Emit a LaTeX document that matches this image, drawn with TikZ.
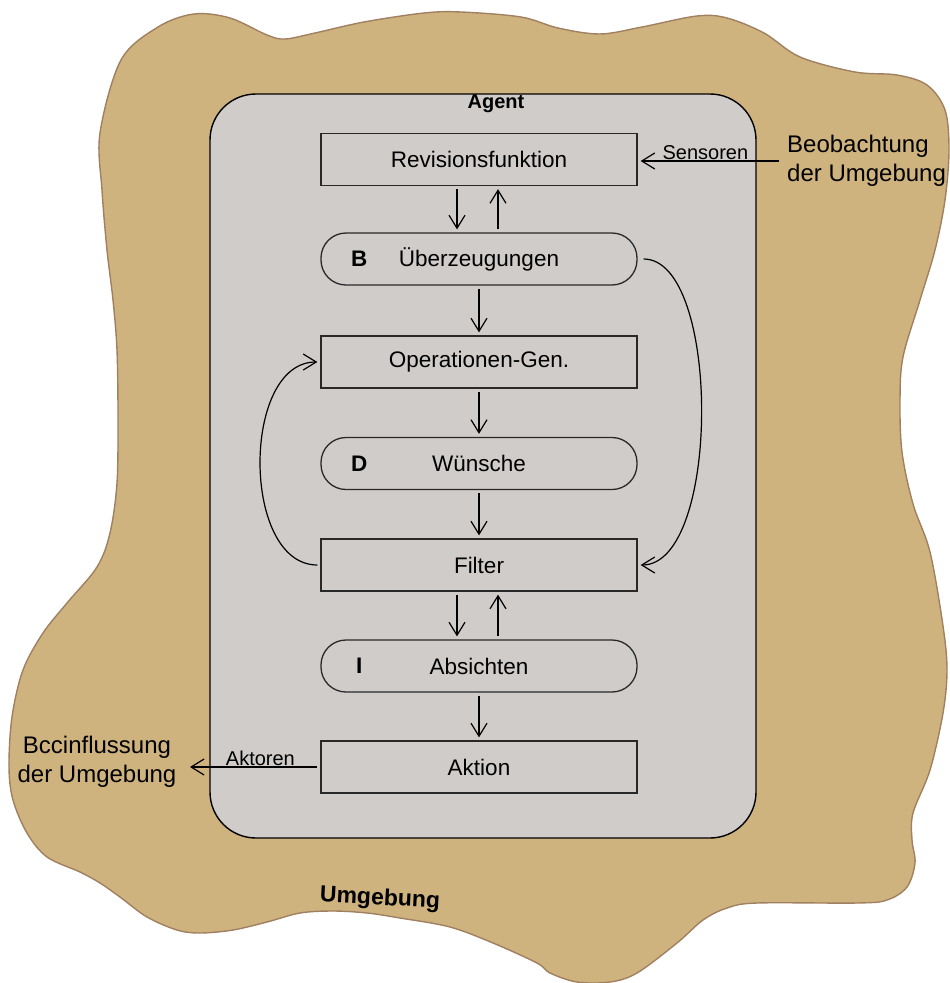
\documentclass[tikz,border=0pt]{standalone}
\usepackage{fontspec}
\setmainfont{Liberation Sans}
\usepackage{tikz}
\usetikzlibrary{arrows.meta}

\definecolor{sand}{RGB}{207,179,127}
\definecolor{sandline}{RGB}{160,128,96}
\definecolor{agentgray}{RGB}{207,204,201}
\definecolor{boxline}{RGB}{40,40,40}

\begin{document}
\begin{tikzpicture}[x=1pt,y=-1pt,
    box/.style={draw=boxline, line width=1.3pt, rectangle, minimum width=316pt, minimum height=52pt, font=\fontsize{22.5}{26}\selectfont},
    store/.style={box, rounded corners=25pt},
    letter/.style={inner sep=0pt, font=\fontsize{22.5}{26}\selectfont\bfseries},
    arr/.style={-{Straight Barb[length=13pt,width=16pt]}, line width=1.2pt, shorten <=3pt, shorten >=3pt},
    side/.style={inner sep=1pt, font=\fontsize{20}{24}\selectfont},
    outer/.style={inner sep=2pt, font=\fontsize{24}{28.5}\selectfont}]

            \fill[white] (0,0) rectangle (950,983);
            \useasboundingbox (0,0) rectangle (950,983);

            % Umgebung
            \draw[fill=sand, draw=sandline, line width=1.4pt] plot[smooth cycle, tension=0.55] coordinates {
                (100,133) (121,60) (158,27) (194,14) (230,18) (267,35) (285,39) (315,33) (364,22)
                (424,13) (461,12) (521,17) (558,28) (600,34) (642,27) (697,16) (727,18) (764,33)
                (800,57) (855,72) (897,75) (927,85) (945,110) (949,150) (945,200) (935,250)
                (920,300) (903,357) (900,400) (902,452) (913,504) (930,552) (943,626) (947,670)
                (943,713) (930,770) (913,813) (912,840) (915,863) (907,887) (887,900) (857,903)
                (757,903) (727,908) (703,920) (677,943) (637,973) (610,982) (577,982) (550,973)
                (537,963) (493,943) (450,927) (400,918) (367,913) (333,911) (300,913) (267,922)
                (233,930) (200,933) (177,930) (147,917) (120,897) (100,883) (80,872) (47,857)
                (27,833) (13,800) (9,767) (12,717) (23,670) (43,633) (67,603) (97,567) (110,533)
                (117,483) (118,417) (117,350) (113,300) (107,250) (102,190)};
            \node[font=\fontsize{23}{27}\selectfont\bfseries, rotate=-3] (env) at (380,899) {Umgebung};

            % Agent
            \node[draw=black, line width=1.4pt, fill=agentgray, rounded corners=46pt,
                  minimum width=546pt, minimum height=744pt] (agent) at (483,466) {};
            \node[inner sep=1pt, font=\fontsize{20}{24}\selectfont\bfseries] (agentlbl) at (496,104) {Agent};

            \node[box] (rev) at (479,159.5) {Revisionsfunktion};
            \node[store] (ueb) at (479,259) {Überzeugungen};
            \node[box] (opgen) at (479,362) {Operationen-Gen.};
            \node[store] (wun) at (479,463.5) {Wünsche};
            \node[box] (filter) at (479,565) {Filter};
            \node[store] (abs) at (479,666) {Absichten};
            \node[box] (aktion) at (479,767) {Aktion};

            \node[letter] (lb) at ([xshift=39pt]ueb.west) {B};
            \node[letter] (ld) at ([xshift=39pt]wun.west) {D};
            \node[letter] (li) at ([xshift=39pt]abs.west) {I};

            \draw[arr] ([xshift=-22pt]rev.south) -- ([xshift=-22pt]ueb.north);
            \draw[arr] ([xshift=19pt]ueb.north) -- ([xshift=19pt]rev.south);
            \draw[arr] (ueb.south) -- (opgen.north);
            \draw[arr] (opgen.south) -- (wun.north);
            \draw[arr] (wun.south) -- (filter.north);
            \draw[arr] ([xshift=-22pt]filter.south) -- ([xshift=-22pt]abs.north);
            \draw[arr] ([xshift=19pt]abs.north) -- ([xshift=19pt]filter.south);
            \draw[arr] (abs.south) -- (aktion.north);

            \draw[arr] (filter.west) to[out=180,in=180,looseness=1] (opgen.west);
            \draw[arr, shorten <=6pt] (ueb.east) to[out=0,in=0,looseness=0.7] (filter.east);

            % Sensoren und Aktoren
            \node[outer, align=left, anchor=west] (obs) at (785,161) {Beobachtung\\der Umgebung};
            \node[outer, align=center] (infl) at (97,762) {Bccinflussung\\der Umgebung};
            \coordinate (aktout) at (190,767);

            \draw[arr, shorten <=6pt] (obs.west) -- (obs.west -| rev.east)
                node[side, above, pos=0.54] (sens) {Sensoren};
            \draw[arr, shorten >=0pt] (aktion.west) -- (aktout)
                node[side, above, pos=0.46] (akt) {Aktoren};

            \end{tikzpicture}
\end{document}
